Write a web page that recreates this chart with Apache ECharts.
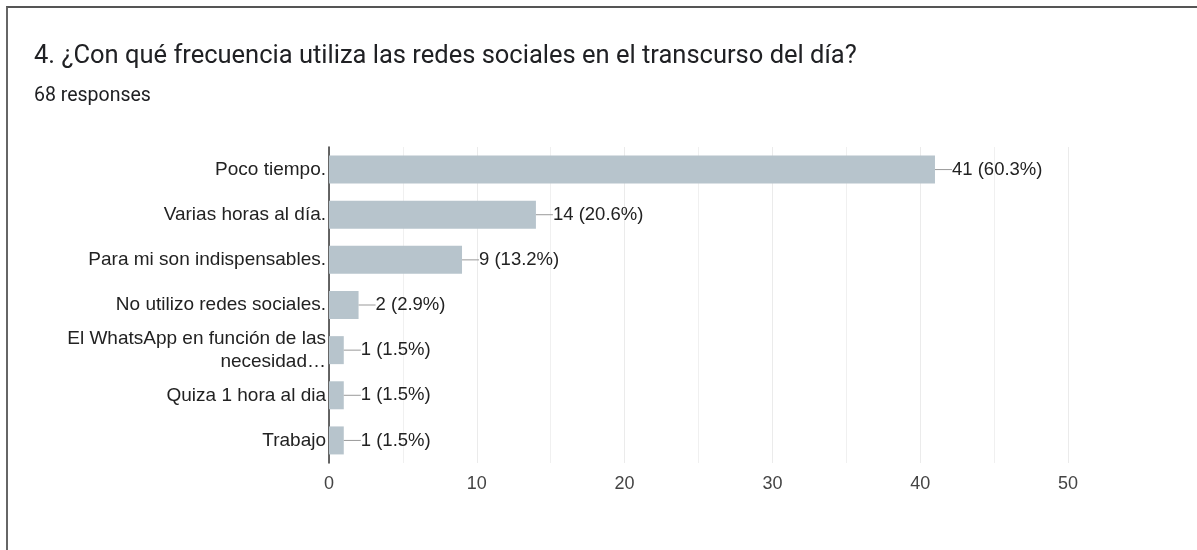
<!DOCTYPE html>
<html>
<head>
    <meta charset="utf-8">
    <title>Redes sociales</title>
    <script src="https://cdn.jsdelivr.net/npm/echarts@6/dist/echarts.min.js"></script>
    <style>
        html, body { margin: 0; padding: 0; background: #fff; }
        #frame {
            position: absolute; left: 6px; top: 6px; width: 1191px; height: 544px;
            border-top: 2px solid #555; border-left: 2px solid #666;
        }
        #chart1 { position: absolute; left: 0; top: 0; width: 1197px; height: 550px; }
    </style>
</head>
<body>
<div id="frame"></div>
<div id="chart1"></div>
<script type="text/javascript">
    // 数据
    var categories = ['Poco tiempo.', 'Varias horas al día.', 'Para mi son indispensables.',
        'No utilizo redes sociales.', 'El WhatsApp en función de las\nnecesidad…',
        'Quiza 1 hora al dia', 'Trabajo'];
    var counts = [41, 14, 9, 2, 1, 1, 1];
    var percents = ['60.3%', '20.6%', '13.2%', '2.9%', '1.5%', '1.5%', '1.5%'];
    var tickLabels = [0, 10, 20, 30, 40, 50];

    var myChart1 = echarts.init(document.getElementById('chart1'));

    myChart1.setOption({
        animation: false,
        textStyle: { fontFamily: 'Liberation Sans, Arial, sans-serif' },
        graphic: [
            {
                type: 'text', left: 34, top: 44,
                style: { text: '4. ¿Con qué frecuencia utiliza las redes sociales en el transcurso del día?',
                    fontFamily: 'Roboto, sans-serif', fontSize: 25.5, fill: '#202124' }
            },
            {
                type: 'text', left: 34, top: 86,
                style: { text: '68 responses', fontFamily: 'Roboto, sans-serif', fontSize: 19.5, fill: '#202124' }
            }
        ],
        grid: { left: 329, right: 129, top: 147, bottom: 87 },
        xAxis: {
            type: 'value',
            min: tickLabels[0],
            max: tickLabels[tickLabels.length - 1],
            interval: 10,
            axisLine: { show: false },
            axisTick: { show: false },
            axisLabel: { color: '#444', fontSize: 18, margin: 12 },
            splitLine: { lineStyle: { color: '#ebebeb' } },
            minorTick: { show: false, splitNumber: 2 },
            minorSplitLine: { show: true, lineStyle: { color: '#f0f0f0' } }
        },
        yAxis: {
            type: 'category',
            inverse: true,
            data: categories,
            axisLine: { lineStyle: { color: '#333', width: 1.5 } },
            axisTick: { show: false },
            axisLabel: { color: '#222', fontSize: 19, margin: 3, lineHeight: 23 }
        },
        series: [{
            type: 'bar',
            data: counts,
            barWidth: 28,
            itemStyle: { color: '#b7c4cc' },
            label: {
                show: true,
                position: 'right',
                distance: 0,
                color: '#222',
                fontSize: 18.5,
                formatter: function (p) {
                    return '{line|}' + p.value + ' (' + percents[p.dataIndex] + ')';
                },
                rich: {
                    line: { width: 17, height: 1, backgroundColor: '#999' }
                }
            }
        }]
    });
</script>
</body>
</html>
